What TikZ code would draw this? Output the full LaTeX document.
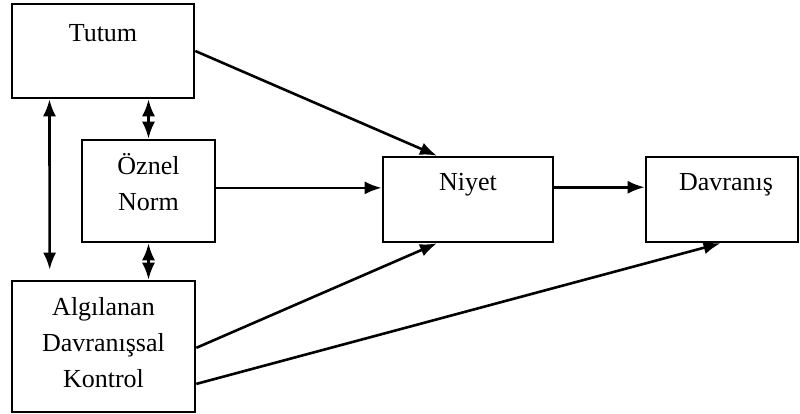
\documentclass[tikz,border=0pt]{standalone}
\usepackage{fontspec}
\setmainfont{Liberation Serif}
\newfontfamily\diagfont{Liberation Serif}
\usetikzlibrary{arrows.meta,calc}
\begin{document}
\begin{tikzpicture}[x=1pt,y=-1pt,
  box/.style={draw,line width=2.6pt,rectangle,inner sep=0pt},
  lbl/.style={font=\diagfont\fontsize{26}{36}\selectfont,align=center,inner sep=0pt,text=black},
  arr/.style={line width=2.6pt,-{Latex[length=17pt,width=13pt]}},
  darr/.style={line width=2.6pt,{Latex[length=17pt,width=13pt]}-{Latex[length=17pt,width=13pt]}}]
\useasboundingbox (0,0) rectangle (800,414);
\node[box,minimum width=182pt,minimum height=94pt] (tutum) at (103,51) {};
\node[lbl] (tutumT) at (103,33) {Tutum};
\node[box,minimum width=133pt,minimum height=102pt] (oznel) at (148.5,191) {};
\node[lbl] (oznelT) at (148.5,182) {Öznel\\Norm};
\node[box,minimum width=183pt,minimum height=131pt] (algi) at (103.5,346.5) {};
\node[lbl] (algiT) at (103.5,343) {Algılanan\\Davranışsal\\Kontrol};
\node[box,minimum width=170pt,minimum height=85pt] (niyet) at (468,199.5) {};
\node[lbl] (niyetT) at (468,185) {Niyet};
\node[box,minimum width=152pt,minimum height=85pt] (davr) at (722,199.5) {};
\node[lbl] (davrT) at (726,185) {Davranış};
\coordinate (c1) at ($(tutum.south west)!0.21!(tutum.south east)$);
\coordinate (c2) at ($(algi.north west)!0.21!(algi.north east)$);
\draw[darr] (c1) -- ($(c2)+(0,-10)$);
\draw[darr] (tutum.south -| oznel.north) -- (oznel.north);
\draw[darr] (oznel.south) -- (oznel.south |- algi.north);
\coordinate (o1) at ($(oznel.north east)!0.47!(oznel.south east)$);
\draw[arr] (o1) -- (o1 -| niyet.west);
\draw[arr] ($(niyet.north east)!0.36!(niyet.south east)$) -- ($(davr.north west)!0.36!(davr.south west)$);
\draw[arr] (tutum.east) -- ($(niyet.north west)!0.32!(niyet.north east)$);
\draw[arr] ($(algi.north east)!0.51!(algi.south east)$) -- ($(niyet.south west)!0.32!(niyet.south east)$);
\draw[arr] ($(algi.north east)!0.78!(algi.south east)$) -- ($(davr.south west)!0.49!(davr.south east)$);
\end{tikzpicture}
\end{document}
